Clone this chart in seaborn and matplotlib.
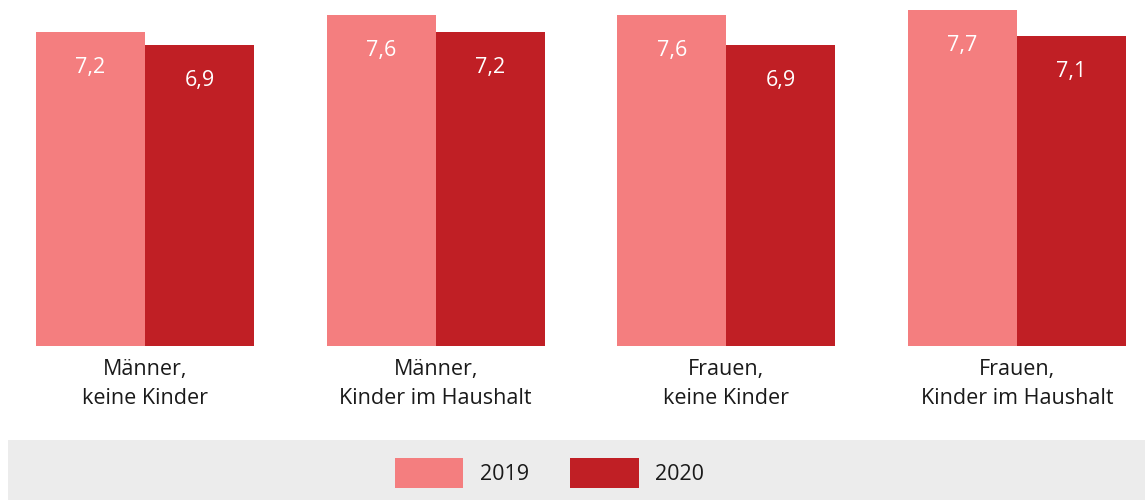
import matplotlib
matplotlib.use("Agg")
import matplotlib.pyplot as plt
import seaborn as sns
import pandas as pd
from matplotlib.patches import Patch, Rectangle

categories = ["Männer,\nkeine Kinder", "Männer,\nKinder im Haushalt",
              "Frauen,\nkeine Kinder", "Frauen,\nKinder im Haushalt"]
years = ["2019", "2020"]
values_2019 = [7.2, 7.6, 7.6, 7.7]
values_2020 = [6.9, 7.2, 6.9, 7.1]
colors = {"2019": "#F47E7F", "2020": "#C01F25"}

df = pd.DataFrame({
    "Gruppe": categories * 2,
    "Jahr": ["2019"] * 4 + ["2020"] * 4,
    "Wert": values_2019 + values_2020,
})

sns.set_style("white")
plt.rcParams["font.family"] = ["Open Sans", "DejaVu Sans"]
FS = 15.5

fig = plt.figure(figsize=(11.45, 5.0), dpi=100)
fig.patches.append(Rectangle((8 / 1145, 0), 1 - 8 / 1145, 60 / 500,
                             transform=fig.transFigure, facecolor="#ECECEC",
                             edgecolor="none", zorder=0))
ax = fig.add_axes([0, 154 / 500, 1, 346 / 500])
ax.patch.set_alpha(0)

sns.barplot(data=df, x="Gruppe", y="Wert", hue="Jahr", order=categories,
            hue_order=years, palette=colors, width=0.75, gap=0,
            linewidth=0, saturation=1, legend=False, ax=ax, errorbar=None)

step = 290.67
ax.set_xlim(-145 / step, (1145 - 145) / step)
ax.set_ylim(0, 346 / 43.6)

for cont in ax.containers:
    labels = [f"{v:.1f}".replace(".", ",") for v in cont.datavalues]
    for bar, lab in zip(cont, labels):
        ax.annotate(lab, (bar.get_x() + bar.get_width() / 2, bar.get_height()),
                    xytext=(0, -35.5 * 72 / 100), textcoords="offset points",
                    ha="center", va="center", color="white", fontsize=FS)

for s in ax.spines.values():
    s.set_visible(False)
ax.set_yticks([])
ax.set_ylabel("")
ax.set_xlabel("")
ax.tick_params(axis="x", length=0, pad=9, labelsize=FS, labelcolor="#1a1a1a")
for t in ax.get_xticklabels():
    t.set_linespacing(1.5)

handles = [Patch(facecolor=colors[y], edgecolor="none", label=y) for y in years]
fig.legend(handles=handles, loc="center", bbox_to_anchor=(549.5 / 1145, 27 / 500),
           ncol=2, frameon=False, fontsize=FS, handlelength=3.2, handleheight=1.77,
           handletextpad=0.75, columnspacing=1.94, labelcolor="#1a1a1a")

fig.savefig("out.png", dpi=100)
